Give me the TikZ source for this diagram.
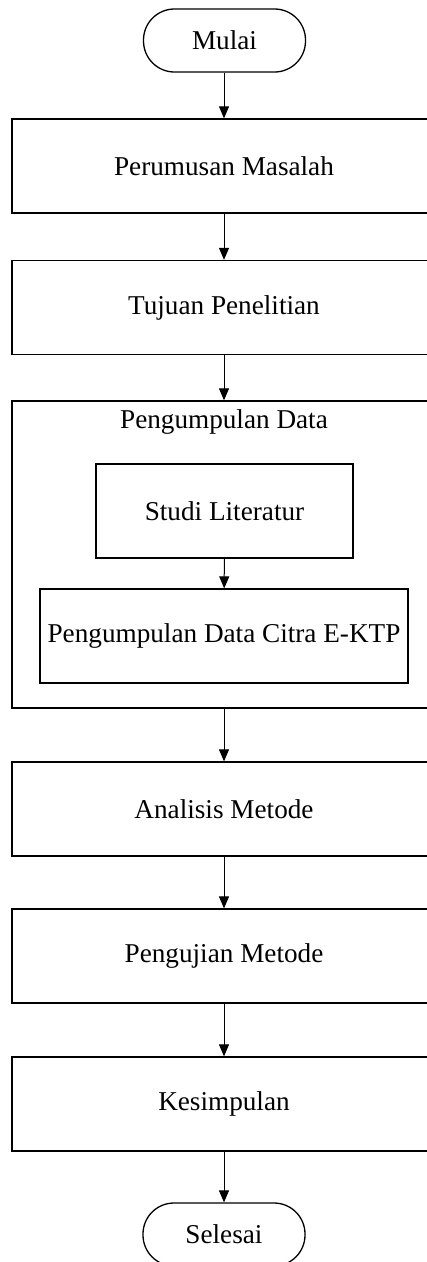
\documentclass[tikz,border=0pt]{standalone}
\usepackage{fontspec}
\setmainfont{Liberation Serif}
\usetikzlibrary{arrows.meta}
\begin{document}
\begin{tikzpicture}[x=1pt,y=-1pt,
  every node/.style={font=\fontsize{27.2}{32}\selectfont},
  frame/.style={draw, line width=1.3pt, inner sep=0pt},
  procbox/.style={frame, rectangle, minimum width=424pt, minimum height=94pt},
  innerbox/.style={frame, rectangle},
  terminal/.style={frame, rectangle, rounded corners=31pt, minimum width=162pt, minimum height=63pt},
  flow/.style={draw, line width=1pt, -{Triangle[width=10pt,length=12pt]}}]
\useasboundingbox (0,0) rectangle (427,1262);
\clip (0,0) rectangle (427,1262);

\node[terminal] (mulai) at (224.5,40.5) {Mulai};
\node[procbox] (rumus) at (224,166) {Perumusan Masalah};
\node[procbox] (tujuan) at (224,307.5) {Tujuan Penelitian};

% data collection group with its two steps
\node[frame, rectangle, minimum width=424pt, minimum height=307pt] (kumpul) at (224,554.5) {};
\node[anchor=center] (kumpullbl) at (224,422) {Pengumpulan Data};
\node[innerbox, minimum width=257pt, minimum height=94pt] (studi) at (224.5,511) {Studi Literatur};
\node[innerbox, minimum width=368pt, minimum height=94pt] (citra) at (224,636) {Pengumpulan Data Citra E-KTP};

\node[procbox] (analisis) at (224,809) {Analisis Metode};
\node[procbox] (uji) at (224,956) {Pengujian Metode};
\node[procbox] (simpul) at (224,1104) {Kesimpulan};
\node[terminal] (selesai) at (224,1234.5) {Selesai};

\draw[flow] (mulai.south -| rumus.north) -- (rumus.north);
\draw[flow] (rumus) -- (tujuan);
\draw[flow] (tujuan) -- (kumpul);
\draw[flow] (studi) -- (citra);
\draw[flow] (kumpul) -- (analisis);
\draw[flow] (analisis) -- (uji);
\draw[flow] (uji) -- (simpul);
\draw[flow] (simpul) -- (selesai);
\end{tikzpicture}
\end{document}
